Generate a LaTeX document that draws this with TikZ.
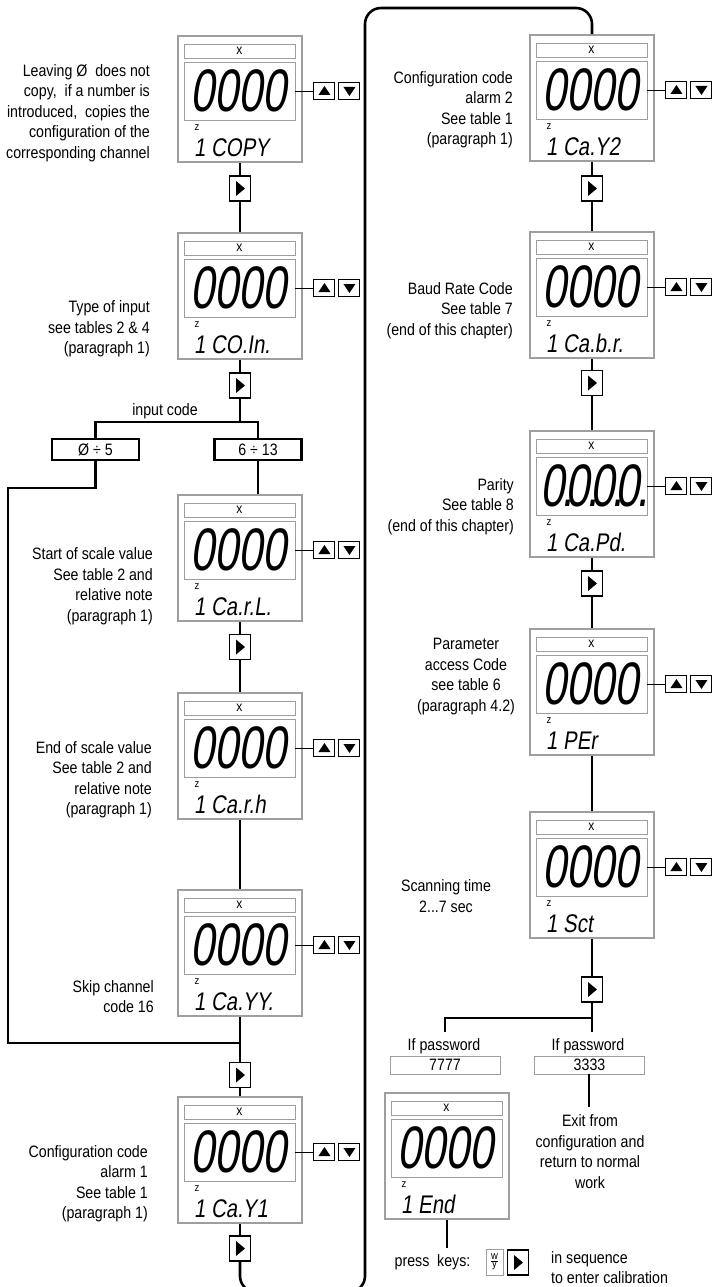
\documentclass[tikz,border=0pt]{standalone}
\usepackage{fontspec}
\setmainfont{Liberation Sans}[FakeStretch=0.86]
\newfontfamily\lcdfont{Liberation Sans}[FakeStretch=0.72,FakeSlant=0.15]
\newfontfamily\codefont{Liberation Sans}[FakeStretch=0.8,FakeSlant=0.15]
\usetikzlibrary{positioning}
\definecolor{lcdgray}{gray}{0.62}
\newcommand\lcddot{\kern-3pt\rlap{.}\kern4pt}
% display: name, left, top, digits, code
\newcommand\lcdpanel[5]{%
	\begin{scope}[shift={(#2,#3)}]
		\node[lcdbox] (#1) at (62,63) {};
		\node[lcdbar] (#1x) at (61.5,15) {x};
		\node[lcdwin] (#1w) at (61.5,55) {};
		\node[lcddigits] (#1d) at (60.5,55) {#4};
		\node[lcdz] (#1z) at (19,92) {z};
		\node[lcdcode] (#1c) at (16,120) {#5};
	\end{scope}}
% up / down keys right of a display
\newcommand\lcdkeys[1]{%
	\node[upkey, right=18pt of #1w] (#1up) {};
	\node[downkey, right=3pt of #1up] (#1dn) {};
	\draw[keylink] (#1w) -- (#1up);}
\begin{document}
\begin{tikzpicture}[x=1pt, y=-1pt,
	font=\fontsize{16.5}{20.5}\selectfont,
	flowline/.style={line width=2.6pt},
	lcdbox/.style={draw=lcdgray, line width=1.5pt, minimum width=124pt, minimum height=126pt, inner sep=0pt},
	lcdbar/.style={draw=lcdgray, line width=0.9pt, minimum width=111pt, minimum height=14pt, inner sep=0pt, font=\fontsize{14}{14}\selectfont},
	lcdwin/.style={draw=lcdgray, line width=0.9pt, minimum width=111pt, minimum height=58pt, inner sep=0pt},
	lcddigits/.style={inner sep=0pt, font=\lcdfont\fontsize{60}{60}\selectfont},
	lcdz/.style={inner sep=0pt, font=\fontsize{11}{11}\selectfont},
	lcdcode/.style={anchor=base west, inner sep=0pt, font=\codefont\fontsize{25.5}{25.5}\selectfont},
	keylink/.style={line width=0.8pt},
	upkey/.style={draw, line width=1pt, minimum width=21pt, minimum height=17pt, inner sep=0pt,
		path picture={\fill[black] ([shift={(-6,4)}]path picture bounding box.center) -- ++(12,0) -- ++(-6,-9) -- cycle;}},
	downkey/.style={draw, line width=1pt, minimum width=21pt, minimum height=17pt, inner sep=0pt,
		path picture={\fill[black] ([shift={(-6,-4)}]path picture bounding box.center) -- ++(12,0) -- ++(-6,9) -- cycle;}},
	nextkey/.style={draw, line width=1.1pt, fill=white, minimum width=21pt, minimum height=25pt, inner sep=0pt,
		path picture={\fill[black] ([shift={(-4,-7.5)}]path picture bounding box.center) -- ++(0,15) -- ++(9,-7.5) -- cycle;}},
	codebox/.style={draw, line width=2.4pt, minimum width=87pt, minimum height=21pt, inner sep=0pt},
	pwbox/.style={draw=lcdgray, line width=0.9pt, minimum width=110pt, minimum height=18pt, inner sep=0pt},
	wybox/.style={draw=lcdgray, line width=0.9pt, minimum width=17pt, minimum height=26pt, inner sep=0pt, font=\fontsize{11}{11}\selectfont},
	sidenote/.style={align=right, inner sep=0pt}]
	\useasboundingbox (0,0) rectangle (714,1287);

	% --- left column ---
	\lcdpanel{copy}{178}{36}{0000}{1 COPY}
	\lcdkeys{copy}
	\node[sidenote, anchor=east] (copynote) at (150,113) {Leaving Ø\ \ does not\\copy,\ \ if a number is\\introduced,\ \ copies the\\configuration of the\\corresponding channel};
	\node[nextkey] (next1) at (240,188.5) {};

	\lcdpanel{coin}{178}{233}{0000}{1 CO.In.}
	\lcdkeys{coin}
	\node[sidenote, anchor=east] (coinnote) at (150,329) {Type of input\\see tables 2 \& 4\\(paragraph 1)};
	\node[nextkey] (next2) at (240,385.5) {};

	% input code branch
	\coordinate (split) at (240,422);
	\node (codelabel) at (165,411) {input code};
	\node[codebox] (lowcode) at (95.5,449.5) {Ø ÷ 5};
	\node[codebox] (highcode) at (258,449.5) {6 ÷ 13};

	\lcdpanel{carl}{178}{495}{0000}{1 Ca.r.L.}
	\lcdkeys{carl}
	\node[sidenote, anchor=east] (carlnote) at (153,586) {Start of scale value\\See table 2 and\\relative note\\(paragraph 1)};
	\node[nextkey] (next3) at (240,647) {};

	\lcdpanel{carh}{178}{693}{0000}{1 Ca.r.h}
	\lcdkeys{carh}
	\node[sidenote, anchor=east] (carhnote) at (152,779.5) {End of scale value\\See table 2 and\\relative note\\(paragraph 1)};

	\lcdpanel{cayy}{178}{890}{0000}{1 Ca.YY.}
	\lcdkeys{cayy}
	\node[sidenote, anchor=east] (cayynote) at (154,996.5) {Skip channel\\code 16};

	\coordinate (skipturn) at (8,488);
	\coordinate (join) at (240,1043);
	\node[nextkey] (next4) at (240,1075) {};

	\lcdpanel{cay1}{178}{1097}{0000}{1 Ca.Y1}
	\lcdkeys{cay1}
	\node[sidenote, anchor=east] (cay1note) at (148,1183.5) {Configuration code\\alarm 1\\See table 1\\(paragraph 1)};
	\node[nextkey] (next5) at (240,1248.5) {};

	\draw[flowline] (copy) -- (next1) -- (coin);
	\draw[flowline] (coin) -- (next2) -- (split);
	\draw[flowline] (lowcode.north) |- (split) -| (highcode.north);
	\draw[flowline] (highcode.south) -- (highcode.south |- carl.north);
	\draw[flowline] (carl) -- (next3) -- (carh);
	\draw[flowline] (carh) -- (cayy);
	\draw[flowline] (lowcode.south) |- (skipturn) |- (join);
	\draw[flowline] (cayy) -- (join) -- (next4) -- (cay1);
	\draw[flowline] (cay1) -- (next5);

	% --- loop to the right column ---
	\coordinate (loopsw) at (240,1292);
	\coordinate (loopse) at (365,1292);
	\coordinate (loopnw) at (365,8);
	\coordinate (loopne) at (592,8);

	% --- right column ---
	\lcdpanel{cay2}{530}{35}{0000}{1 Ca.Y2}
	\lcdkeys{cay2}
	\node[sidenote, anchor=east] (cay2note) at (513,109.5) {Configuration code\\alarm 2\\See table 1\\(paragraph 1)};
	\node[nextkey] (next6) at (592,188.5) {};

	\lcdpanel{cabr}{530}{232}{0000}{1 Ca.b.r.}
	\lcdkeys{cabr}
	\node[sidenote, anchor=east] (cabrnote) at (513,310.5) {Baud Rate Code\\See table 7\\(end of this chapter)};
	\node[nextkey] (next7) at (592,383) {};

	\lcdpanel{capd}{530}{431}{0\lcddot0\lcddot0\lcddot0\lcddot}{1 Ca.Pd.}
	\lcdkeys{capd}
	\node[sidenote, anchor=east] (capdnote) at (514,506.5) {Parity\\See table 8\\(end of this chapter)};
	\node[nextkey] (next8) at (592,583.5) {};

	\lcdpanel{per}{530}{629}{0000}{1 PEr}
	\lcdkeys{per}
	\node[align=center, inner sep=0pt] (pernote) at (466,676.5) {Parameter\\access Code\\see table 6\\(paragraph 4.2)};

	\lcdpanel{sct}{530}{812}{0000}{1 Sct}
	\lcdkeys{sct}
	\node[align=center, inner sep=0pt] (sctnote) at (446,896) {Scanning time\\2...7 sec};
	\node[nextkey] (next9) at (592,989.5) {};

	% password fork
	\coordinate (pwfork) at (592,1018);
	\coordinate (pwleft) at (445,1032);
	\coordinate (pwright) at (592,1032);
	\node (pwtexta) at (444,1046) {If password};
	\node (pwtextb) at (588,1046) {If password};
	\node[pwbox] (pwboxa) at (445,1065) {7777};
	\node[pwbox] (pwboxb) at (589.5,1065) {3333};
	\coordinate (exitend) at (589,1107);
	\node[align=center, inner sep=0pt] (exitnote) at (590,1151.5) {Exit from\\configuration and\\return to normal\\work};

	\lcdpanel{endcal}{385}{1093}{0000}{1 End}
	\coordinate (presskey) at (447,1248);
	\node (presstext) at (432.5,1262) {press\ \ keys:};
	\node[wybox] (wkey) at (494.5,1262) {${\hbox{w}\over\hbox{y}}$};
	\node[nextkey] (next10) at (518,1262.5) {};
	\node[anchor=west, align=left, inner sep=0pt] (seqnote) at (551,1267.5) {in sequence\\to enter calibration};

	\draw[flowline, rounded corners=16pt] (next5) -- (loopsw) -- (loopse) -- (loopnw) -- (loopne) -- (cay2);
	\draw[flowline] (cay2) -- (next6) -- (cabr) -- (next7) -- (capd) -- (next8) -- (per);
	\draw[flowline] (per) -- (sct) -- (next9) -- (pwright);
	\draw[flowline] (pwfork) -| (pwleft);
	\draw[flowline] (pwboxb.south -| exitend) -- (exitend);
	\draw[flowline] (endcal) -- (presskey);
\end{tikzpicture}
\end{document}
